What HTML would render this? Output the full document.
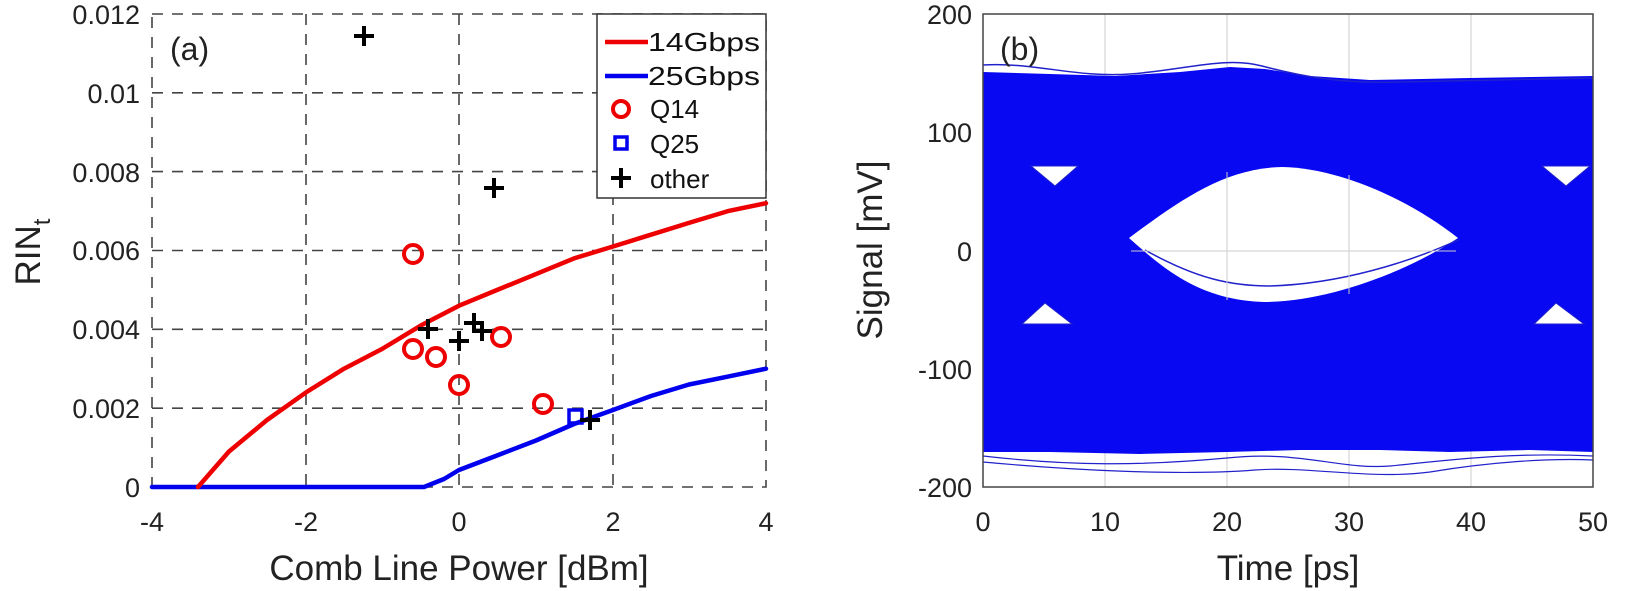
<!DOCTYPE html>
<html><head><meta charset="utf-8"><style>
html,body{margin:0;padding:0;background:#fff;}
svg{display:block;font-family:"Liberation Sans",Arial,sans-serif;}
</style></head><body>
<svg width="1650" height="591" viewBox="0 0 1650 591" xmlns="http://www.w3.org/2000/svg">
<!-- Panel A -->
<g stroke="#444" stroke-width="1.6" stroke-dasharray="11,9" fill="none">
<line x1="306" y1="14" x2="306" y2="487"/>
<line x1="459" y1="14" x2="459" y2="487"/>
<line x1="613" y1="14" x2="613" y2="487"/>
<line x1="152" y1="92.8" x2="766" y2="92.8"/>
<line x1="152" y1="171.6" x2="766" y2="171.6"/>
<line x1="152" y1="250.5" x2="766" y2="250.5"/>
<line x1="152" y1="329.3" x2="766" y2="329.3"/>
<line x1="152" y1="408.2" x2="766" y2="408.2"/>
<rect x="152" y="14" width="614" height="473"/>
</g>
<g font-size="27" fill="#222" text-anchor="end">
<text x="140" y="497">0</text>
<text x="140" y="418">0.002</text>
<text x="140" y="339">0.004</text>
<text x="140" y="260">0.006</text>
<text x="140" y="182">0.008</text>
<text x="140" y="103">0.01</text>
<text x="140" y="24">0.012</text>
</g>
<g font-size="27" fill="#222" text-anchor="middle">
<text x="152" y="531">-4</text><text x="306" y="531">-2</text><text x="459" y="531">0</text><text x="613" y="531">2</text><text x="766" y="531">4</text>
</g>
<text x="459" y="580" font-size="35" fill="#222" text-anchor="middle">Comb Line Power [dBm]</text>
<text transform="translate(40,252) rotate(-90)" font-size="35" fill="#222" text-anchor="middle">RIN<tspan font-size="24" dy="10">t</tspan></text>
<text x="170" y="60" font-size="32" fill="#222">(a)</text>
<g fill="none" stroke-width="4.5" stroke-linejoin="round" stroke-linecap="round">
<path d="M152,487 L424,487 L444,479 L459,470 L497,455.5 L536,440.5 L574,424 L613,410 L651,396 L689,384.5 L728,376.6 L766,368.7" stroke="#0000ee"/>
<path d="M198,487 L229,451.5 L267,420 L306,392.4 L344,368.7 L382,349 L421,325.4 L459,305.7 L497,290 L536,274.1 L574,258.4 L613,246.5 L651,234.7 L689,222.9 L728,211.1 L766,203.2" stroke="#ee0000"/>
</g>
<g fill="none" stroke="#ee0000" stroke-width="4">
<circle cx="413" cy="254" r="9"/>
<circle cx="413" cy="349" r="9"/>
<circle cx="436" cy="357" r="9"/>
<circle cx="459" cy="385" r="9"/>
<circle cx="501" cy="337" r="9"/>
<circle cx="543" cy="404" r="9"/>
</g>
<rect x="569" y="410" width="13" height="13" fill="none" stroke="#0000ee" stroke-width="3.5"/>
<g stroke="#000" stroke-width="4">
<path d="M364,26v20M354,36h20"/>
<path d="M494,178v20M484,188h20"/>
<path d="M428,319v20M418,329h20"/>
<path d="M459,331v20M449,341h20"/>
<path d="M474,313v20M464,323h20"/>
<path d="M482,321v20M472,331h20"/>
<path d="M590,410v20M580,420h20"/>
</g>
<rect x="597" y="14" width="169" height="184" fill="#fff" stroke="#333" stroke-width="1.5"/>
<line x1="605" y1="42" x2="648" y2="42" stroke="#ee0000" stroke-width="4.5"/>
<line x1="605" y1="76" x2="648" y2="76" stroke="#0000ee" stroke-width="4.5"/>
<circle cx="621" cy="109" r="8" fill="none" stroke="#ee0000" stroke-width="4"/>
<rect x="615" y="137" width="12" height="12" fill="none" stroke="#0000ee" stroke-width="3.5"/>
<path d="M621,168v20M611,178h20" stroke="#000" stroke-width="4"/>
<g font-size="26" fill="#111">
<text x="648" y="51" textLength="112" lengthAdjust="spacingAndGlyphs">14Gbps</text>
<text x="648" y="85" textLength="112" lengthAdjust="spacingAndGlyphs">25Gbps</text>
<text x="650" y="118">Q14</text>
<text x="650" y="153">Q25</text>
<text x="650" y="188">other</text>
</g>
<!-- Panel B: T(t)=983+12.2t -->
<g stroke="#ccc" stroke-width="1">
<line x1="1105" y1="14" x2="1105" y2="487"/><line x1="1227" y1="14" x2="1227" y2="487"/><line x1="1349" y1="14" x2="1349" y2="487"/><line x1="1471" y1="14" x2="1471" y2="487"/>
<line x1="983" y1="132" x2="1593" y2="132"/><line x1="983" y1="251" x2="1593" y2="251"/><line x1="983" y1="369" x2="1593" y2="369"/>
</g>
<path d="M983,72 L1050,74 L1115,76 L1180,72 L1230,67 L1265,69 L1310,76 L1370,80 L1470,78 L1593,76 L1593,452 L1530,450 L1450,452 L1380,450 L1300,450 L1227,452 L1140,454 L1050,452 L983,452 Z" fill="#0808f2"/>
<path d="M983,65 C1035,62 1075,78 1130,74 C1185,70 1225,56 1262,66 C1300,76 1340,84 1400,82 L1593,78" fill="none" stroke="#2222cc" stroke-width="1.5"/>
<path d="M983,456 C1070,466 1140,466 1227,458 C1300,450 1340,470 1390,466 C1450,460 1510,452 1593,456" fill="none" stroke="#2222cc" stroke-width="1.2"/>
<path d="M983,462 C1070,470 1180,476 1255,470 C1310,466 1370,480 1430,472 C1490,462 1550,458 1593,460" fill="none" stroke="#2222cc" stroke-width="1.2"/>
<!-- eye -->
<path d="M1129,238 C1180,200 1225,168 1282,167 C1340,168 1410,200 1458,238 C1410,270 1330,302 1264,302 C1200,300 1165,270 1129,238 Z" fill="#fff"/>
<path d="M1145,250 C1195,278 1230,286 1270,286 C1340,284 1410,262 1458,240" fill="none" stroke="#2222cc" stroke-width="1.5"/>
<g stroke="#ccc"><line x1="1227" y1="172" x2="1227" y2="300"/><line x1="1349" y1="175" x2="1349" y2="294"/>
<line x1="1131" y1="251" x2="1456" y2="251"/></g>
<g fill="#fff" stroke="#2222cc" stroke-width="1">
<path d="M1031,166 L1078,166 L1055,186 Z"/>
<path d="M1542,166 L1590,166 L1566,186 Z"/>
<path d="M1022,324 L1072,324 L1045,303 Z"/>
<path d="M1534,324 L1584,324 L1556,303 Z"/>
</g>
<rect x="983" y="14" width="610" height="473" fill="none" stroke="#444" stroke-width="1.5"/>
<g font-size="27" fill="#222" text-anchor="end">
<text x="972" y="24">200</text><text x="972" y="142">100</text><text x="972" y="261">0</text><text x="972" y="379">-100</text><text x="972" y="497">-200</text>
</g>
<g font-size="27" fill="#222" text-anchor="middle">
<text x="983" y="531">0</text><text x="1105" y="531">10</text><text x="1227" y="531">20</text><text x="1349" y="531">30</text><text x="1471" y="531">40</text><text x="1593" y="531">50</text>
</g>
<text x="1288" y="580" font-size="35" fill="#222" text-anchor="middle">Time [ps]</text>
<text transform="translate(882,250) rotate(-90)" font-size="35" fill="#222" text-anchor="middle">Signal [mV]</text>
<text x="1000" y="60" font-size="32" fill="#222">(b)</text>
</svg>
</body></html>
